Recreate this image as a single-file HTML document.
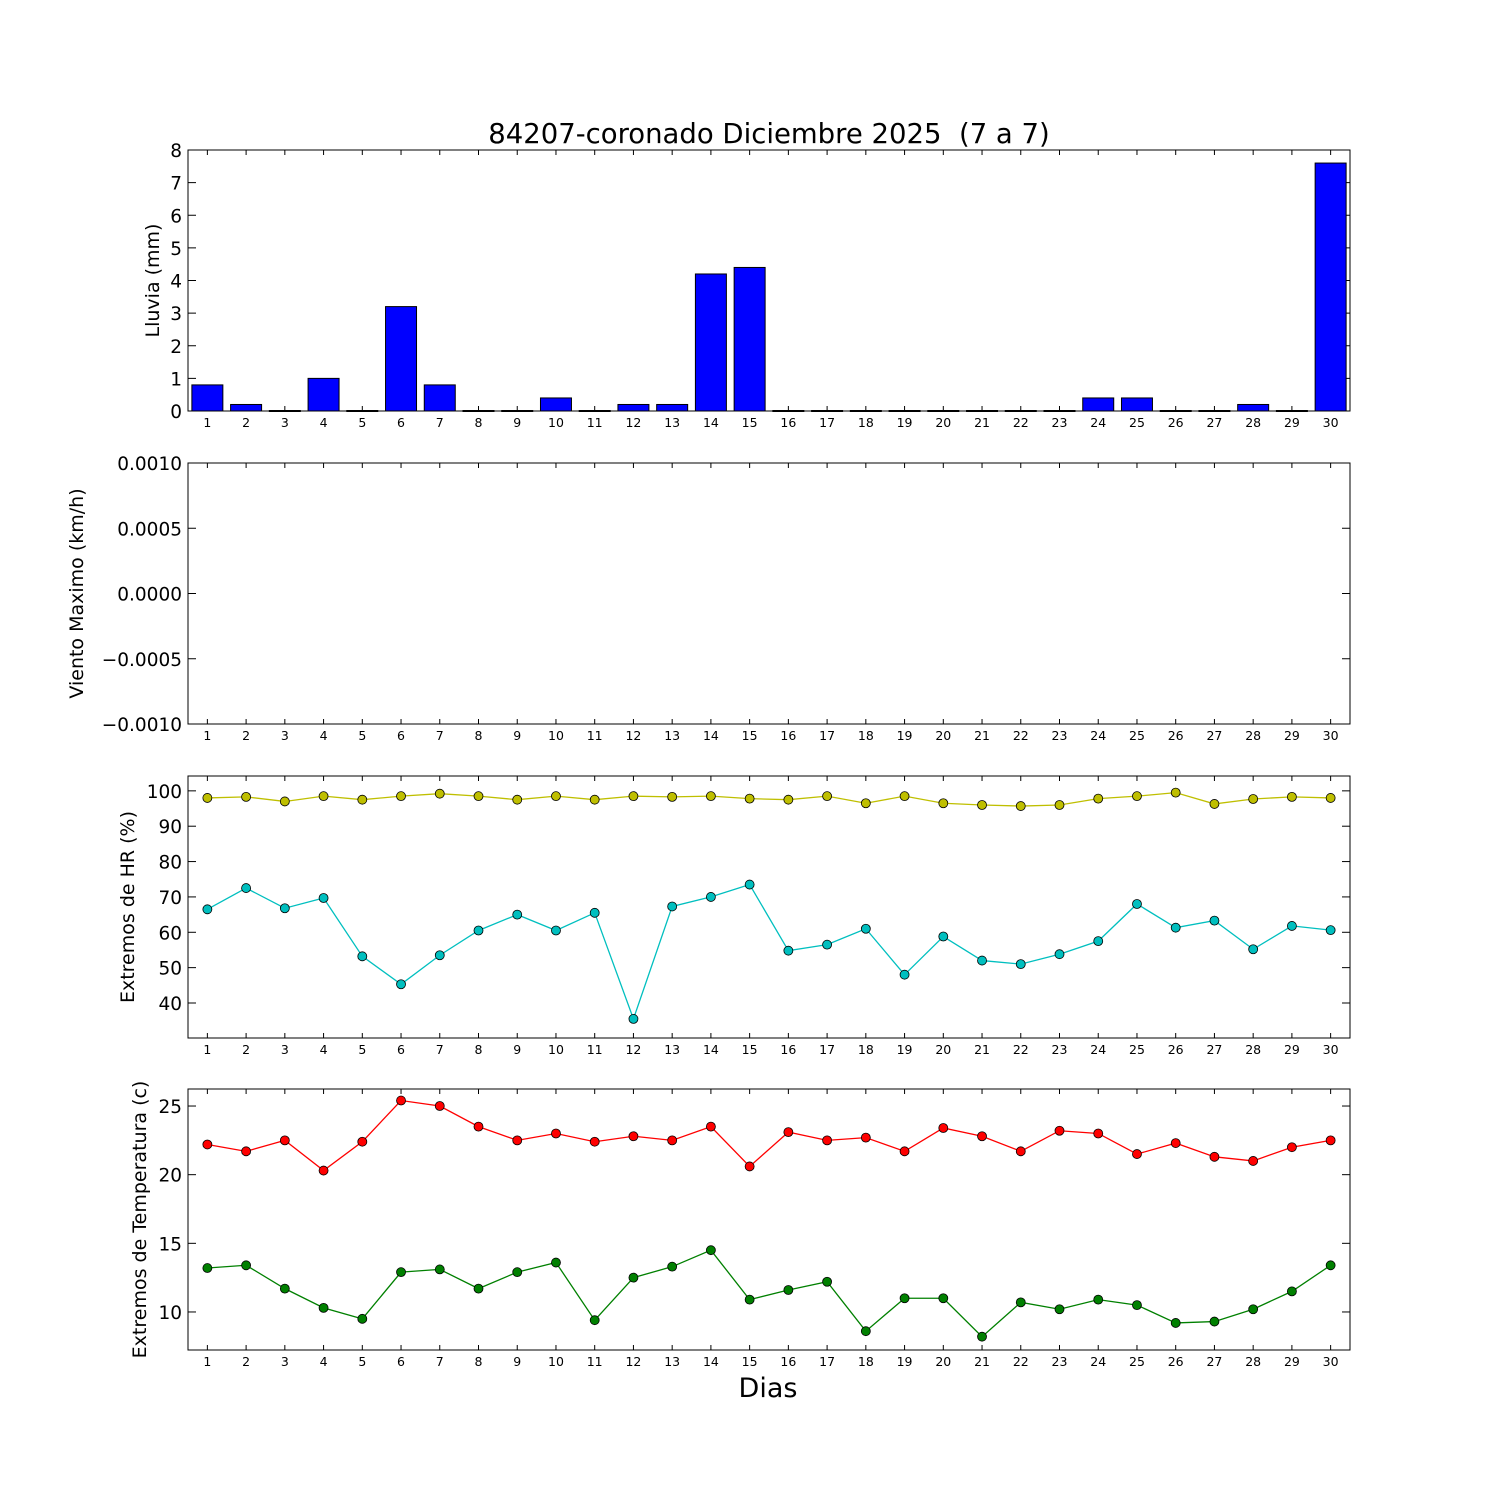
<!DOCTYPE html>
<html><head><meta charset="utf-8"><style>
html,body{margin:0;padding:0;background:#fff}
svg{display:block;font-family:"DejaVu Sans","Liberation Sans",sans-serif}
</style></head><body>
<svg id="chart" width="1500" height="1500" viewBox="0 0 1500 1500" xmlns="http://www.w3.org/2000/svg">
<rect width="1500" height="1500" fill="#fff"/>
<text x="769" y="143" font-size="27.5" text-anchor="middle" xml:space="preserve" style="white-space:pre">84207-coronado Diciembre 2025  (7 a 7)</text>
<text x="768" y="1397" font-size="27" text-anchor="middle">Dias</text>
</svg>
<script>
const days = Array.from({length:30},(_,i)=>i+1);
const rain = [0.8,0.2,0,1.0,0,3.2,0.8,0,0,0.4,0,0.2,0.2,4.2,4.4,0,0,0,0,0,0,0,0,0.4,0.4,0,0,0.2,0,7.6];
const hrMax = [98,98.3,97,98.5,97.5,98.5,99.2,98.5,97.5,98.5,97.5,98.5,98.3,98.5,97.8,97.5,98.5,96.5,98.5,96.5,96,95.7,96,97.8,98.5,99.5,96.3,97.7,98.3,98];
const hrMin = [66.5,72.5,66.8,69.7,53.2,45.3,53.5,60.5,65,60.5,65.5,35.5,67.3,70,73.5,54.8,56.5,61,48,58.8,52,51,53.8,57.5,68,61.3,63.3,55.2,61.8,60.6];
const tMax = [22.2,21.7,22.5,20.3,22.4,25.4,25,23.5,22.5,23,22.4,22.8,22.5,23.5,20.6,23.1,22.5,22.7,21.7,23.4,22.8,21.7,23.2,23,21.5,22.3,21.3,21,22,22.5];
const tMin = [13.2,13.4,11.7,10.3,9.5,12.9,13.1,11.7,12.9,13.6,9.4,12.5,13.3,14.5,10.9,11.6,12.2,8.6,11,11,8.2,10.7,10.2,10.9,10.5,9.2,9.3,10.2,11.5,13.4];
const rainTicks = [0,1,2,3,4,5,6,7,8];
const windTicks = ["0.0010","0.0005","0.0000","\u22120.0005","\u22120.0010"];
const hrTicks = [40,50,60,70,80,90,100];
const tTicks = [10,15,20,25];

const svg = document.getElementById('chart');
const NS = 'http://www.w3.org/2000/svg';
const L = 188, R = 1350;
function mk(tag, attrs, parent){const e=document.createElementNS(NS,tag);for(const k in attrs)e.setAttribute(k,attrs[k]);(parent||svg).appendChild(e);return e;}
const xs = d => L + (d-0.5)*(R-L)/30;

function panel(name, top, bot, y0, y1, ticks, ylabel, tickVals){
  const g = mk('g',{});
  
  
  const ys = v => bot - (v-y0)/(y1-y0)*(bot-top);
  mk('rect',{x:L,y:top,width:R-L,height:bot-top,fill:'none',stroke:'#000','stroke-width':1},g);
  days.forEach(d=>{
    const x=xs(d);
    mk('line',{x1:x,x2:x,y1:bot,y2:bot-5,stroke:'#000'},g);
    mk('line',{x1:x,x2:x,y1:top,y2:top+5,stroke:'#000'},g);
    const t=mk('text',{x:x,y:bot+16,'font-size':12.5,'text-anchor':'middle'},g);t.textContent=d;
  });
  ticks.forEach((lab,i)=>{
    const v = tickVals ? tickVals[i] : lab;
    const y=ys(v);
    mk('line',{x1:L,x2:L+8,y1:y,y2:y,stroke:'#000'},g);
    mk('line',{x1:R,x2:R-8,y1:y,y2:y,stroke:'#000'},g);
    const t=mk('text',{x:L-6,y:y+7,'font-size':18.5,'text-anchor':'end'},g);t.textContent=lab;
  });
  const yl=mk('text',{x:0,y:0,'font-size':19,'text-anchor':'middle',transform:`translate(${name==='wind-panel'?83:name==='rain-panel'?159:name==='hr-panel'?134:146},${(top+bot)/2}) rotate(-90)`},g);
  yl.textContent=ylabel;
  return {g,ys};
}

const p1 = panel('rain-panel',150,411,0,8,rainTicks,'Lluvia (mm)');
const bw = 0.8*(R-L)/30;
rain.forEach((v,i)=>{
  const b=mk('rect',{x:xs(days[i])-bw/2,y:p1.ys(v)-(v===0?0.5:0),width:bw,height:Math.max(1,p1.ys(0)-p1.ys(v)),fill:'#0000ff',stroke:'#000','stroke-width':1},p1.g);
  
  
});
panel('wind-panel',463,724,-0.001,0.001,windTicks,'Viento Maximo (km/h)',[0.001,0.0005,0,-0.0005,-0.001]);
const p3 = panel('hr-panel',776,1038,30.1,104.2,hrTicks,'Extremos de HR (%)');
const p4 = panel('temp-panel',1089,1350,7.23,26.24,tTicks,'Extremos de Temperatura (c)');

function series(p, vals, color, name){
  const pl=mk('polyline',{points:vals.map((v,i)=>xs(days[i])+','+p.ys(v)).join(' '),fill:'none',stroke:color,'stroke-width':1.3},p.g);
  
  
  vals.forEach((v,i)=>{
    const c=mk('circle',{cx:xs(days[i]),cy:p.ys(v),r:4.5,fill:color,stroke:'#000','stroke-width':0.8},p.g);
    
    
  });
}
series(p3,hrMax,'#bfbf00','hr-max');
series(p3,hrMin,'#00bfbf','hr-min');
series(p4,tMax,'#ff0000','temp-max');
series(p4,tMin,'#008000','temp-min');
</script>
</body></html>
